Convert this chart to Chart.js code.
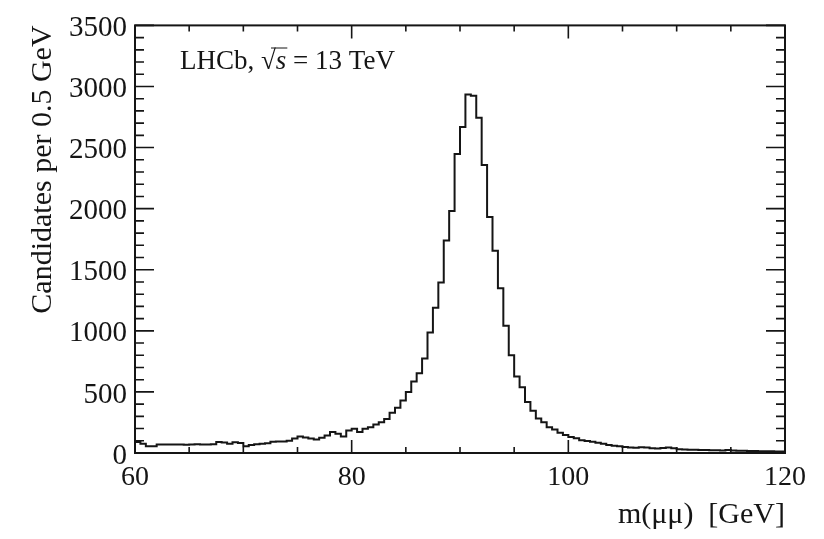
<!DOCTYPE html>
<html>
<head>
<meta charset="utf-8">
<script src="https://cdn.jsdelivr.net/npm/chart.js@4"></script>
<style>
  body { margin: 0; background: #fff; }
  #wrap { width: 824px; height: 539px; }
</style>
</head>
<body>
<div id="wrap"><canvas id="massChart" width="824" height="539"></canvas></div>
<script>
// histogram binning (GeV)
const binLow = 60;
const binWidth = 0.5;

// candidates per 0.5 GeV bin, 60 -> 120 GeV
const counts = [
  90, 75, 55, 55, 70, 70, 70, 70, 70, 68,        // 60.0 - 64.5
  70, 72, 70, 70, 72, 90, 85, 75, 88, 82,        // 65.0 - 69.5
  55, 65, 72, 75, 80, 92, 95, 95, 100, 118,      // 70.0 - 74.5
  136, 126, 118, 110, 125, 144, 171, 158, 136, 185, // 75.0 - 79.5
  198, 171, 198, 211, 233, 251, 278, 330, 370, 430, // 80.0 - 84.5
  500, 586, 652, 773, 987, 1188, 1396, 1740, 1980, 2448, // 85.0 - 89.5
  2668, 2935, 2925, 2745, 2357, 1932, 1656, 1348, 1041, 800, // 90.0 - 94.5
  626, 538, 417, 345, 283, 251, 211, 193, 166, 148, // 95.0 - 99.5
  131, 120, 104, 99, 92, 84, 75, 66, 60, 55,     // 100.0 - 104.5
  50, 45, 42, 48, 45, 38, 36, 40, 44, 38,        // 105.0 - 109.5
  30, 28, 27, 26, 25, 24, 22, 22, 20, 24,        // 110.0 - 114.5
  20, 18, 18, 16, 17, 15, 14, 14, 13, 12         // 115.0 - 119.5
];

const xTickLabels = [60, 80, 100, 120];
const yTickLabels = [0, 500, 1000, 1500, 2000, 2500, 3000, 3500];

// points at the lower bin edges, plus closing edge
const histPoints = counts.map((c, i) => ({ x: binLow + i * binWidth, y: c }));
histPoints.push({ x: binLow + counts.length * binWidth, y: counts[counts.length - 1] });

const serif = '"Liberation Serif", "DejaVu Serif", serif';
const ink = '#151515';

// ROOT style frame with inward ticks, plus the LHCb label
const rootFrame = {
  id: 'rootFrame',
  afterDraw(chart) {
    const { ctx, chartArea: a, scales: { x, y } } = chart;
    ctx.save();
    ctx.strokeStyle = ink;
    ctx.lineWidth = 2;
    ctx.strokeRect(a.left, a.top, a.right - a.left, a.bottom - a.top);

    ctx.lineWidth = 1.6;
    ctx.beginPath();
    for (let v = 60; v <= 120; v += 5) {
      const px = x.getPixelForValue(v);
      const len = v % 20 === 0 ? 13 : 6;
      ctx.moveTo(px, a.bottom); ctx.lineTo(px, a.bottom - len);
      ctx.moveTo(px, a.top); ctx.lineTo(px, a.top + len);
    }
    for (let v = 0; v <= 3500; v += 100) {
      const py = y.getPixelForValue(v);
      const len = v % 500 === 0 ? 19 : 9;
      ctx.moveTo(a.left, py); ctx.lineTo(a.left + len, py);
      ctx.moveTo(a.right, py); ctx.lineTo(a.right - len, py);
    }
    ctx.stroke();

    // LHCb, sqrt(s) = 13 TeV
    ctx.fillStyle = ink;
    ctx.textBaseline = 'alphabetic';
    let tx = 180;
    const ty = 69;
    ctx.font = '27px ' + serif;
    ctx.fillText('LHCb, ', tx, ty);
    tx += ctx.measureText('LHCb, ').width;
    const rootX = tx;
    ctx.fillText('\u221A', tx, ty);
    tx += ctx.measureText('\u221A').width;
    ctx.font = 'italic 27px ' + serif;
    ctx.fillText('s', tx, ty);
    const sW = ctx.measureText('s').width;
    ctx.lineWidth = 1;
    ctx.beginPath();
    ctx.moveTo(rootX + 10, ty - 21);
    ctx.lineTo(tx + sW + 1, ty - 21);
    ctx.stroke();
    tx += sW;
    ctx.font = '27px ' + serif;
    ctx.fillText(' = 13 TeV', tx, ty);
    ctx.restore();
  }
};

new Chart(document.getElementById('massChart'), {
  type: 'line',
  data: {
    datasets: [{
      data: histPoints,
      borderColor: ink,
      borderWidth: 2,
      pointRadius: 0,
      stepped: 'before',
      fill: false
    }]
  },
  options: {
    responsive: false,
    animation: false,
    layout: { padding: { top: 18, right: 39, bottom: 0, left: 0 } },
    plugins: { legend: { display: false }, tooltip: { enabled: false } },
    scales: {
      x: {
        type: 'linear',
        min: 60,
        max: 120,
        afterBuildTicks: s => { s.ticks = xTickLabels.map(v => ({ value: v })); },
        afterFit: s => { s.height = 86; },
        grid: { display: false, drawTicks: false },
        border: { display: false },
        ticks: {
          color: ink,
          font: { family: serif, size: 28 },
          padding: 8,
          maxRotation: 0,
          callback: v => String(v)
        },
        title: {
          display: true,
          text: 'm(\u03BC\u03BC)  [GeV]',
          align: 'end',
          color: ink,
          font: { family: serif, size: 30 },
          padding: { top: 0, bottom: 6 }
        }
      },
      y: {
        min: 0,
        max: 3500,
        afterBuildTicks: s => { s.ticks = yTickLabels.map(v => ({ value: v })); },
        afterFit: s => { s.width = 135; },
        grid: { display: false, drawTicks: false },
        border: { display: false },
        ticks: {
          color: ink,
          font: { family: serif, size: 29 },
          padding: 8,
          labelOffset: 3,
          callback: v => String(v)
        },
        title: {
          display: true,
          text: 'Candidates per 0.5 GeV',
          align: 'end',
          color: ink,
          font: { family: serif, size: 30 },
          padding: { top: 25, bottom: 0 }
        }
      }
    }
  },
  plugins: [rootFrame]
});
</script>
</body>
</html>
